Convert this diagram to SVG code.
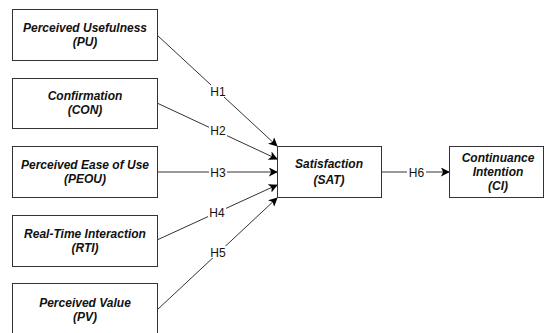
<svg xmlns="http://www.w3.org/2000/svg" width="546" height="333" viewBox="0 0 546 333">
<style>
.box{fill:#fff;stroke:#333;stroke-width:1}
.t{font-family:"Liberation Sans",Arial,sans-serif;font-size:12px;font-weight:bold;font-style:italic;fill:#111;text-anchor:middle}
.lbl{font-family:"Liberation Sans",Arial,sans-serif;font-size:12px;fill:#111;text-anchor:middle}
.ln{stroke:#333;stroke-width:1;fill:none}
.lb{fill:#fff}
</style>
<defs>
<marker id="arr" viewBox="0 0 10 10" refX="9" refY="5" markerWidth="9" markerHeight="9" orient="auto" markerUnits="userSpaceOnUse">
<path d="M0,0 L10,5 L0,10 L2.5,5 Z" fill="#000"/>
</marker>
</defs>
<rect width="546" height="333" fill="#fff"/>
<g id="connectors">
<line class="ln" x1="157" y1="35" x2="277" y2="146" marker-end="url(#arr)"/>
<line class="ln" x1="157" y1="103" x2="277" y2="159" marker-end="url(#arr)"/>
<line class="ln" x1="157" y1="172" x2="277" y2="172" marker-end="url(#arr)"/>
<line class="ln" x1="157" y1="240" x2="277" y2="185" marker-end="url(#arr)"/>
<line class="ln" x1="157" y1="310" x2="277" y2="198" marker-end="url(#arr)"/>
<line class="ln" x1="381" y1="172" x2="449" y2="172" marker-end="url(#arr)"/>
<rect class="lb" x="209" y="85" width="18" height="12"/>
<text class="lbl" x="218" y="96">H1</text>
<rect class="lb" x="209" y="124" width="18" height="12"/>
<text class="lbl" x="218" y="135">H2</text>
<rect class="lb" x="209" y="166" width="18" height="12"/>
<text class="lbl" x="218" y="177">H3</text>
<rect class="lb" x="208" y="206" width="18" height="12"/>
<text class="lbl" x="217" y="217">H4</text>
<rect class="lb" x="209" y="246" width="18" height="12"/>
<text class="lbl" x="218" y="257">H5</text>
<rect class="lb" x="407" y="166" width="19" height="12"/>
<text class="lbl" x="416.5" y="177">H6</text>
</g>
<g id="pu">
<rect class="box" x="12.5" y="9.5" width="145" height="51"/>
<text class="t" x="85" y="32">Perceived Usefulness</text>
<text class="t" x="85" y="46">(PU)</text>
</g>
<g id="con">
<rect class="box" x="12.5" y="78.5" width="145" height="50"/>
<text class="t" x="85" y="100">Confirmation</text>
<text class="t" x="85" y="114">(CON)</text>
</g>
<g id="peou">
<rect class="box" x="12.5" y="146.5" width="145" height="51"/>
<text class="t" x="85" y="169">Perceived Ease of Use</text>
<text class="t" x="85" y="183">(PEOU)</text>
</g>
<g id="rti">
<rect class="box" x="12.5" y="215.5" width="145" height="51"/>
<text class="t" x="85" y="238">Real-Time Interaction</text>
<text class="t" x="85" y="252">(RTI)</text>
</g>
<g id="pv">
<rect class="box" x="12.5" y="283.5" width="145" height="52"/>
<text class="t" x="85" y="307">Perceived Value</text>
<text class="t" x="85" y="321">(PV)</text>
</g>
<g id="sat">
<rect class="box" x="277.5" y="146.5" width="104" height="51"/>
<text class="t" x="329" y="168">Satisfaction</text>
<text class="t" x="329" y="184">(SAT)</text>
</g>
<g id="ci">
<rect class="box" x="449.5" y="146.5" width="94" height="51"/>
<text class="t" x="498" y="162">Continuance</text>
<text class="t" x="498" y="176">Intention</text>
<text class="t" x="498" y="190">(CI)</text>
</g>
</svg>
